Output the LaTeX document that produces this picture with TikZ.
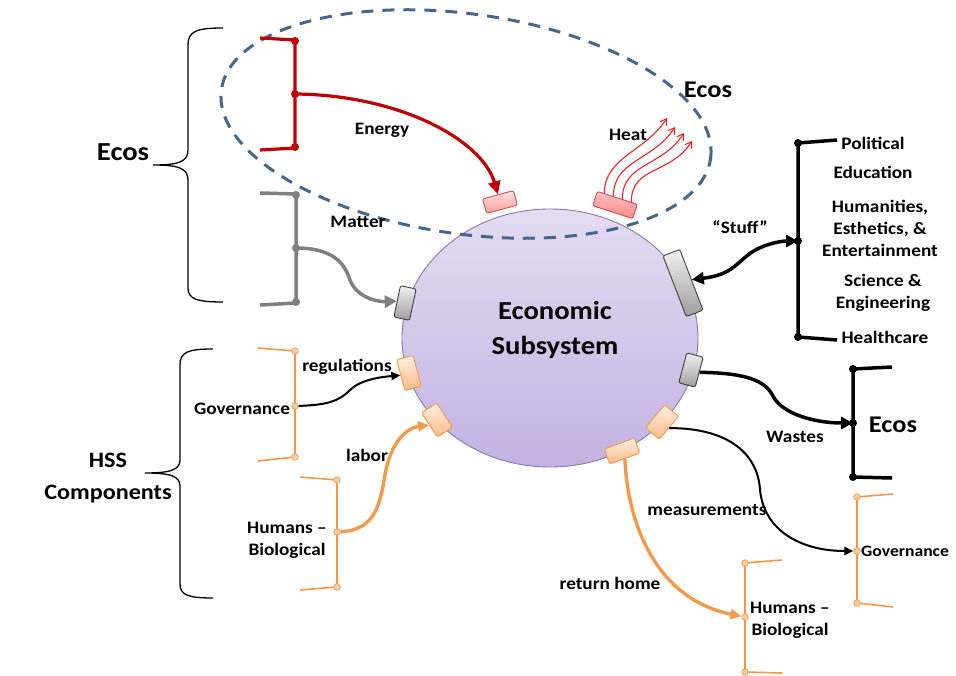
\documentclass[tikz,border=0pt]{standalone}
\usepackage{fontspec}
\setmainfont{Carlito}[FakeStretch=1.1]
\usetikzlibrary{arrows.meta,shapes.geometric,calc}

\definecolor{ecored}{HTML}{C00000}
\definecolor{heatred}{HTML}{E8262A}
\definecolor{matgray}{HTML}{808080}
\definecolor{hssorange}{HTML}{F79646}
\definecolor{flowor}{HTML}{F39A4C}
\definecolor{dashblue}{HTML}{44678F}
\definecolor{econtop}{HTML}{E3DCF2}
\definecolor{econbot}{HTML}{C3B2E2}
\definecolor{econline}{HTML}{8A78B0}

\tikzset{
  lbl/.style={font=\fontsize{17.5}{22}\selectfont\bfseries, align=center, inner sep=0pt},
  biglbl/.style={font=\fontsize{24}{30}\selectfont\bfseries, align=center, inner sep=0pt},
  port/.style={rectangle, rounded corners=2pt, inner sep=0pt, line width=0.9pt},
  grayport/.style={port, draw=black!75, top color=black!6, bottom color=black!38},
  orport/.style={port, draw=hssorange, top color=orange!12, bottom color=hssorange!65},
  redport/.style={port, draw=ecored!70, top color=red!12, bottom color=red!38},
  dot/.style={circle, fill, inner sep=0pt, minimum size=8pt},
  odot/.style={circle, draw=hssorange, fill=hssorange!45, inner sep=0pt, minimum size=6.5pt, line width=0.7pt},
  bigtip/.style={-{Triangle[length=13pt,width=12pt]}},
  smalltip/.style={-{Triangle[length=9pt,width=8pt]}},
}

\begin{document}
\begin{tikzpicture}[x=1pt,y=-1pt]
\useasboundingbox (0,0) rectangle (956,676);

% economic subsystem
\node[ellipse, draw=econline, line width=0.9pt, top color=econtop, bottom color=econbot,
  minimum width=296pt, minimum height=258pt] (econ) at (550,338) {};
\node[biglbl, font=\fontsize{26}{35}\selectfont\bfseries] (econtxt) at (555,330) {Economic\\Subsystem};

% ecosystem boundary
\draw[dashblue, line width=3pt, dash pattern=on 12pt off 9pt, rotate around={-8:(466,124)}]
  (466,124) ellipse [x radius=247pt, y radius=110pt];

% ports on the subsystem
\node[redport, minimum width=32pt, minimum height=15pt, rotate=15] (eport) at (500,202) {};
\node[redport, top color=red!25, bottom color=red!45, minimum width=42pt, minimum height=15pt, rotate=-18] (hport) at (615,205) {};
\node[grayport, minimum width=16pt, minimum height=32pt, rotate=-12] (mport) at (405,303) {};
\node[grayport, minimum width=18pt, minimum height=65pt, rotate=21] (sport) at (683,283) {};
\node[grayport, minimum width=17pt, minimum height=31pt, rotate=-15] (wport) at (691,370) {};
\node[orport, minimum width=17pt, minimum height=32pt, rotate=15] (rport) at (409,373) {};
\node[orport, minimum width=18pt, minimum height=29pt, rotate=33] (lport) at (437,420) {};
\node[orport, minimum width=18pt, minimum height=30pt, rotate=-40] (msport) at (662,422) {};
\node[orport, minimum width=32pt, minimum height=16pt, rotate=20] (rhport) at (622,451) {};

% braces
\draw[line width=1.3pt] (223,28) .. controls (197,28) and (188,31) .. (188,45) -- (188,150)
  .. controls (188,162) and (178,165) .. (153,165) .. controls (178,165) and (188,168) .. (188,180)
  -- (188,288) .. controls (188,299) and (197,302) .. (223,302);
\draw[line width=1.3pt] (213,349) .. controls (188,349) and (180,352) .. (180,365) -- (180,460)
  .. controls (180,470) and (170,473) .. (145,473) .. controls (170,473) and (180,476) .. (180,486)
  -- (180,584) .. controls (180,595) and (188,598) .. (213,598);
\node[biglbl, font=\fontsize{26}{32}\selectfont\bfseries] (ecosl) at (123,152) {Ecos};
\node[biglbl, font=\fontsize{22}{32}\selectfont\bfseries] (hss) at (108,478) {HSS\\Components};

% energy
\draw[ecored, line width=3.2pt, rounded corners=3pt] (260,38) -- (295,40) -- (295,148) -- (260,150);
\node[dot, ecored] (etop) at (295,41) {};
\node[dot, ecored] (emid) at (295,94) {};
\node[dot, ecored] (ebot) at (295,147) {};
\draw[ecored, line width=3.2pt, bigtip] (emid.center) .. controls (400,95) and (482,140) .. (eport.north);
\node[lbl] (energy) at (382,130) {Energy};

% matter
\draw[matgray, line width=3.5pt, rounded corners=3pt] (260,193) -- (296,194) -- (296,303) -- (260,305);
\node[dot, matgray] (mtop) at (296,195) {};
\node[dot, matgray] (mmid) at (296,248) {};
\node[dot, matgray] (mbot) at (296,302) {};
\draw[matgray, line width=3.5pt, -{Triangle[length=12pt,width=12pt]}] (mmid.center)
  .. controls (335,248) and (345,265) .. (350,280) .. controls (356,296) and (375,302) .. (mport.west);
\node[lbl] (matter) at (358,222) {Matter};

% heat
\foreach \n/\i/\ex/\ey in {1/0.18/667/118, 2/0.4/675/127, 3/0.62/684/133, 4/0.84/692/141}{
  \coordinate (heat\n) at (\ex,\ey);
  \draw[heatred, line width=1.1pt, -{Straight Barb[length=6pt,width=8pt]}]
    ($(hport.north west)!\i!(hport.north east)$) .. controls +(0,-36) and +(-22,34) .. (heat\n);
}
\node[lbl] (heat) at (628,135) {Heat};
\node[biglbl] (ecost) at (708,90) {Ecos};

% stuff
\draw[line width=3.5pt, rounded corners=3pt] (837,140) -- (798,143) -- (798,337) -- (837,340);
\node[dot] (stop) at (798,143) {};
\node[dot] (smid) at (798,241) {};
\node[dot] (sbot) at (798,337) {};
\draw[line width=3.5pt, {Triangle[length=12pt,width=12pt]}-{Triangle[length=12pt,width=12pt]}] (sport.east)
  .. controls (730,275) and (735,265) .. (748,255) .. controls (760,245) and (780,241) .. (smid.center);
\node[lbl] (stuff) at (740,227) {“Stuff”};
\node[lbl] (political) at (873,143) {Political};
\node[lbl] (education) at (873,172) {Education};
\node[lbl] (humanities) at (880,228) {Humanities,\\Esthetics, \&\\Entertainment};
\node[lbl] (science) at (883,293) {Science \&\\Engineering};
\node[lbl] (health) at (885,337) {Healthcare};

% wastes
\draw[line width=3.5pt, rounded corners=3pt] (892,367) -- (853,369) -- (853,477) -- (892,478);
\node[dot] (wtop) at (853,369) {};
\node[dot] (wmid) at (853,423) {};
\node[dot] (wbot) at (853,477) {};
\draw[line width=3.5pt, -{Triangle[length=12pt,width=12pt]}] (wport.east)
  .. controls (745,373) and (765,380) .. (773,396) .. controls (782,414) and (815,423) .. (wmid.center);
\node[lbl] (wastes) at (795,437) {Wastes};
\node[biglbl] (ecosr) at (893,425) {Ecos};

% governance, left
\draw[hssorange, line width=1.6pt, rounded corners=2pt] (258,348) -- (295,351) -- (295,457) -- (258,461);
\node[odot] (gltop) at (295,351) {};
\node[odot] (glmid) at (295,406) {};
\node[odot] (glbot) at (295,457) {};
\draw[line width=2pt, smalltip] (glmid)
  .. controls (330,405) and (340,400) .. (350,390) .. controls (360,380) and (380,377) .. (rport.west);
\node[lbl] (govl) at (242,409) {Governance};
\node[lbl] (regul) at (347,367) {regulations};

% humans, left
\draw[hssorange, line width=1.6pt, rounded corners=2pt] (300,477) -- (337,480) -- (337,587) -- (300,590);
\node[odot] (hltop) at (337,480) {};
\node[odot] (hlmid) at (337,532) {};
\node[odot] (hlbot) at (337,587) {};
\draw[flowor, line width=3.4pt, -{Triangle[length=11pt,width=10pt]}] (hlmid)
  .. controls (375,530) and (380,505) .. (385,475) .. controls (390,445) and (405,428) .. (lport.west);
\node[lbl] (huml) at (287,540) {Humans –\\Biological};
\node[lbl] (labor) at (367,455) {labor};

% governance, right
\draw[hssorange, line width=1.6pt, rounded corners=2pt] (893,494) -- (857,497) -- (857,603) -- (893,607);
\node[odot] (grtop) at (857,497) {};
\node[odot] (grmid) at (857,551) {};
\node[odot] (grbot) at (857,603) {};
\draw[line width=2pt, smalltip] (msport.east)
  .. controls (730,428) and (758,455) .. (760,490) .. controls (764,530) and (800,551) .. (grmid);
\node[lbl] (measure) at (707,510) {measurements};
\node[lbl, font=\fontsize{16}{20}\selectfont\bfseries, anchor=west] (govr) at (861,551) {Governance};

% humans, right
\draw[hssorange, line width=1.6pt, rounded corners=2pt] (782,560) -- (745,563) -- (745,672) -- (782,673);
\node[odot] (hrtop) at (745,563) {};
\node[odot] (hrmid) at (745,617) {};
\node[odot] (hrbot) at (745,672) {};
\draw[flowor, line width=3.4pt, -{Triangle[length=11pt,width=10pt]}] (rhport.south)
  .. controls (628,530) and (660,600) .. (hrmid);
\node[lbl] (home) at (610,583) {return home};
\node[lbl] (humr) at (790,620) {Humans –\\Biological};
\end{tikzpicture}
\end{document}
